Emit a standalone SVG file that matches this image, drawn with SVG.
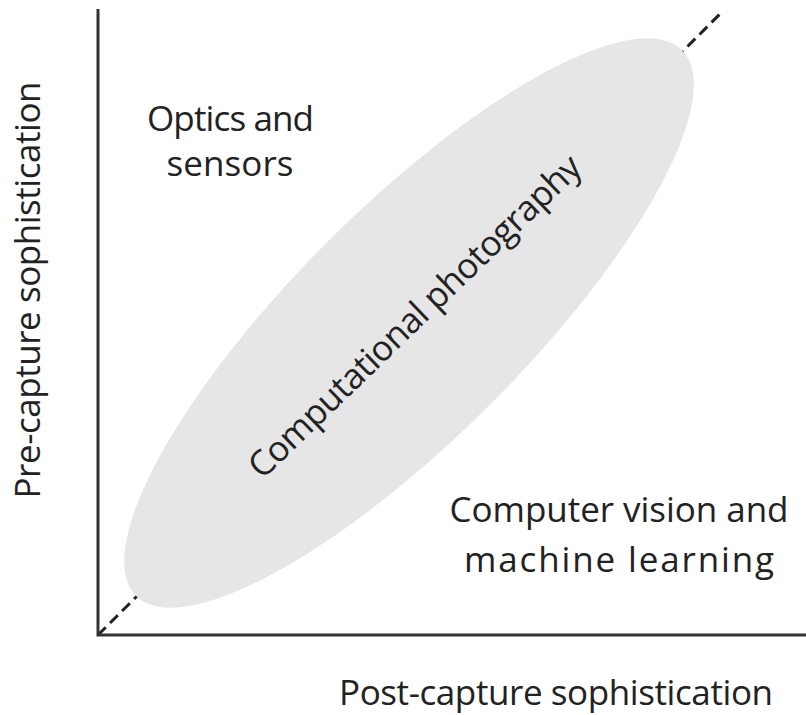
<svg xmlns="http://www.w3.org/2000/svg" width="806" height="715" viewBox="0 0 806 715">
  <style>
    .lbl { font-family: "Open Sans", "Noto Sans", "Liberation Sans", sans-serif; font-size: 35px; fill: #222; }
    .axis { stroke: #333; stroke-width: 3; fill: none; }
    .diag { stroke: #222; stroke-width: 3; stroke-dasharray: 11 6; fill: none; }
  </style>
  <rect width="806" height="715" fill="#fff"/>
  <g id="connectors">
    <line class="diag" x1="98" y1="635" x2="722" y2="12"/>
  </g>
  <g id="computational-photography">
    <ellipse cx="409" cy="323" rx="386" ry="115" fill="#e6e6e6" transform="rotate(-45 409 323)"/>
    <text class="lbl" x="423" y="325" text-anchor="middle" textLength="447" transform="rotate(-44 423 325)">Computational photography</text>
  </g>
  <g id="axes">
    <polyline class="axis" points="98,9 98,635 806,635"/>
  </g>
  <g id="y-axis-label">
    <text class="lbl" x="40" y="290" text-anchor="middle" textLength="417" transform="rotate(-90 40 290)">Pre-capture sophistication</text>
  </g>
  <g id="x-axis-label">
    <text class="lbl" x="556" y="705" text-anchor="middle" textLength="434">Post-capture sophistication</text>
  </g>
  <g id="optics-and-sensors">
    <text class="lbl" x="230.5" y="131" text-anchor="middle" textLength="167">Optics and</text>
    <text class="lbl" x="230" y="176" text-anchor="middle" textLength="127">sensors</text>
  </g>
  <g id="computer-vision">
    <text class="lbl" x="619" y="522" text-anchor="middle" textLength="339">Computer vision and</text>
    <text class="lbl" x="619" y="572" text-anchor="middle" textLength="310">machine learning</text>
  </g>
</svg>
